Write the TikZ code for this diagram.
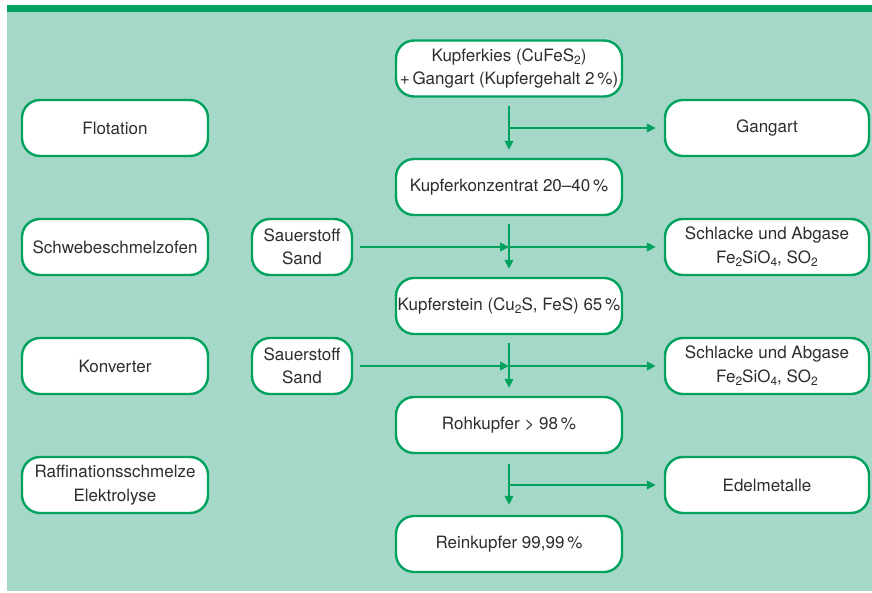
\documentclass[tikz,border=0pt]{standalone}
\usepackage{fontspec}
\setmainfont{TeX Gyre Heros}
\usetikzlibrary{arrows.meta}
\definecolor{mint}{HTML}{A6D8C9}
\definecolor{dgreen}{HTML}{00A25E}
\definecolor{txt}{HTML}{2E2E2E}
\newcommand{\sbs}[1]{\raisebox{-3.5pt}{\fontsize{12}{12}\selectfont #1}}
\tikzset{
  box/.style={draw=dgreen, line width=2.4pt, fill=white, rounded corners=18pt,
    minimum height=56pt, inner sep=0pt, align=center, text=txt,
    font=\fontsize{17}{23.5}\selectfont},
  lbox/.style={box, minimum width=186pt},
  cbox/.style={box, minimum width=226pt},
  rbox/.style={box, minimum width=204pt},
  sbox/.style={box, minimum width=100pt},
  arr/.style={draw=dgreen, line width=2pt, -{Triangle[length=9pt,width=8.5pt]}},
  ln/.style={draw=dgreen, line width=2pt}
}
\begin{document}
\begin{tikzpicture}[x=1pt,y=-1pt]
\useasboundingbox (0,0) rectangle (872,593);
\fill[white] (0,0) rectangle (872,593);
\fill[mint] (7,12) rectangle (872,591);
\fill[dgreen] (7,5) rectangle (872,12);
% left column
\node[lbox] (flot) at (115,128) {Flotation};
\node[lbox] (schwebe) at (115,247) {Schwebeschmelzofen};
\node[lbox] (konv) at (115,366) {Konverter};
\node[lbox] (raff) at (115,485) {Raffinationsschmelze\\Elektrolyse};
% center column
\node[cbox] (kies) at (509,68.5) {Kupferkies (CuFeS\sbs{2})\\+\,Gangart (Kupfergehalt 2\,\%)};
\node[cbox] (konz) at (509,187) {Kupferkonzentrat 20--40\,\%};
\node[cbox] (stein) at (509,306) {Kupferstein (Cu\sbs{2}S, FeS) 65\,\%};
\node[cbox] (roh) at (509,425) {Rohkupfer > 98\,\%};
\node[cbox] (rein) at (509,544) {Reinkupfer 99,99\,\%};
% right column
\node[rbox] (gang) at (767,128) {Gangart};
\node[rbox] (schl1) at (767,247) {Schlacke und Abgase\\Fe\sbs{2}SiO\sbs{4}, SO\sbs{2}};
\node[rbox] (schl2) at (767,366) {Schlacke und Abgase\\Fe\sbs{2}SiO\sbs{4}, SO\sbs{2}};
\node[rbox] (edel) at (767,485) {Edelmetalle};
% oxygen boxes
\node[sbox] (sau1) at (302,247) {Sauerstoff\\Sand};
\node[sbox] (sau2) at (302,366) {Sauerstoff\\Sand};
% vertical arrows
\draw[arr] ([yshift=-8pt]kies.south) -- ([yshift=8pt]konz.north);
\draw[arr] ([yshift=-8pt]konz.south) -- ([yshift=8pt]stein.north);
\draw[arr] ([yshift=-8pt]stein.south) -- ([yshift=8pt]roh.north);
\draw[arr] ([yshift=-10pt]roh.south) -- ([yshift=10pt]rein.north);
% side arrows
\draw[arr] (kies.south |- gang.west) -- ([xshift=-8pt]gang.west);
\draw[arr] ([xshift=7pt]sau1.east) -- (konz.south |- sau1.east);
\draw[arr] (konz.south |- sau1.east) -- ([xshift=-8pt]schl1.west);
\draw[arr] ([xshift=7pt]sau2.east) -- (stein.south |- sau2.east);
\draw[arr] (stein.south |- sau2.east) -- ([xshift=-8pt]schl2.west);
\draw[arr] (roh.south |- edel.west) -- ([xshift=-8pt]edel.west);
\end{tikzpicture}
\end{document}
